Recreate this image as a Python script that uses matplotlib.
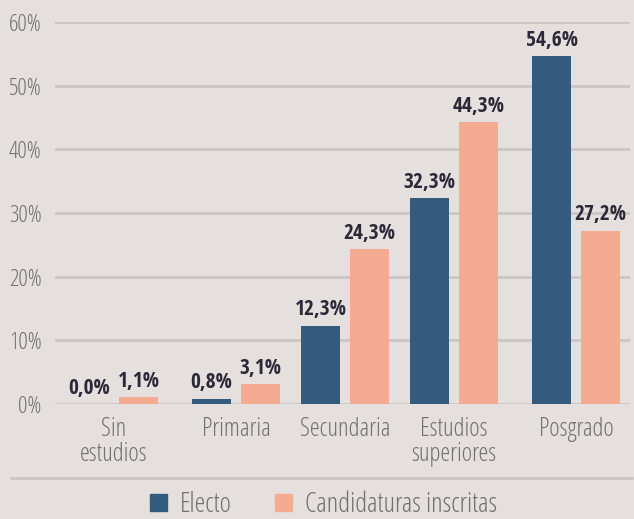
import matplotlib
matplotlib.use("Agg")
import matplotlib.pyplot as plt
from matplotlib import font_manager as fm
from matplotlib.font_manager import FontProperties
from matplotlib.lines import Line2D
from matplotlib.patches import Patch
import numpy as np

categories = ["Sin\nestudios", "Primaria", "Secundaria", "Estudios\nsuperiores", "Posgrado"]
electo = [0.0, 0.8, 12.3, 32.3, 54.6]
inscritas = [1.1, 3.1, 24.3, 44.3, 27.2]
series_names = ["Electo", "Candidaturas inscritas"]
yticks = [0, 10, 20, 30, 40, 50, 60]


def find(options):
    files = [f.fname for f in fm.fontManager.ttflist]
    for pats, bad in options:
        for fn in files:
            b = fn.split("/")[-1].lower()
            if all(p in b for p in pats) and not any(x in b for x in bad + ["italic"]):
                return fn
    return None

light_file = find([
    (["opensans", "cond", "light"], ["extra"]),
    (["firasanscondensed-light"], []),
    (["encodesanscondensed-light"], []),
])
bold_file = find([
    (["opensans", "cond", "bold"], ["semi", "extra"]),
    (["firasanscondensed-bold"], []),
    (["encodesanscondensed-bold"], []),
])


def fp(size, bold=False):
    f = bold_file if bold else light_file
    if f:
        return FontProperties(fname=f, size=size)
    return FontProperties(family="DejaVu Sans", stretch="condensed",
                          weight="bold" if bold else "normal", size=size)

BG = "#e5e0dd"
BLUE = "#335b7e"
SALMON = "#f5aa92"
GRID = "#c9c6c4"
TXT = "#727070"
LBL = "#2b2838"

fig = plt.figure(figsize=(6.34, 5.19), dpi=100, facecolor=BG)
ax = fig.add_axes([55/634, 1-404/519, 575/634, (404-22)/519])
ax.set_facecolor(BG)

# group positions (layout of the original, slightly uneven spacing)
gx = np.array([0.0, 1.12, 2.12, 3.12, 4.24])
w = 0.358
off = 0.225
b1 = ax.bar(gx - off, electo, w, color=BLUE, zorder=3)
b2 = ax.bar(gx + off, inscritas, w, color=SALMON, zorder=3)


def fmt(v):
    return f"{v:.1f}%".replace(".", ",")

for bars, vals in ((b1, electo), (b2, inscritas)):
    for r, v in zip(bars, vals):
        ax.annotate(fmt(v), (r.get_x() + r.get_width()/2, v), xytext=(0, 7.5),
                    textcoords="offset points", ha="center", va="baseline",
                    fontproperties=fp(15.5, True), color=LBL, zorder=4)

ax.set_xlim(-0.541, 4.734)
ax.set_ylim(0, 60)
ax.set_yticks(yticks)
ax.set_yticklabels([f"{t}%" for t in yticks])
ax.set_xticks(gx)
ax.set_xticklabels(categories, linespacing=1.05)
for t in ax.get_yticklabels():
    t.set_fontproperties(fp(17))
    t.set_color(TXT)
for t in ax.get_xticklabels():
    t.set_fontproperties(fp(18))
    t.set_color(TXT)
ax.tick_params(axis="both", length=0)
ax.tick_params(axis="y", pad=9.5)
ax.tick_params(axis="x", pad=9)
ax.grid(axis="y", color=GRID, linewidth=2, zorder=0)
for s in ax.spines.values():
    s.set_visible(False)

fig.add_artist(Line2D([11/634, 632/634], [1-478/519]*2, color=GRID, linewidth=2,
                      transform=fig.transFigure))

handles = [Patch(color=BLUE, label=series_names[0]), Patch(color=SALMON, label=series_names[1])]
leg = fig.legend(handles=handles, loc="center", bbox_to_anchor=(0.51, 1-505/519), ncol=2,
                 frameon=False, prop=fp(19.5), handlelength=0.63, handleheight=0.63,
                 handletextpad=0.48, columnspacing=1.6, borderpad=0, borderaxespad=0)
for t in leg.get_texts():
    t.set_color(TXT)

fig.savefig("out.png", dpi=100, facecolor=BG)
